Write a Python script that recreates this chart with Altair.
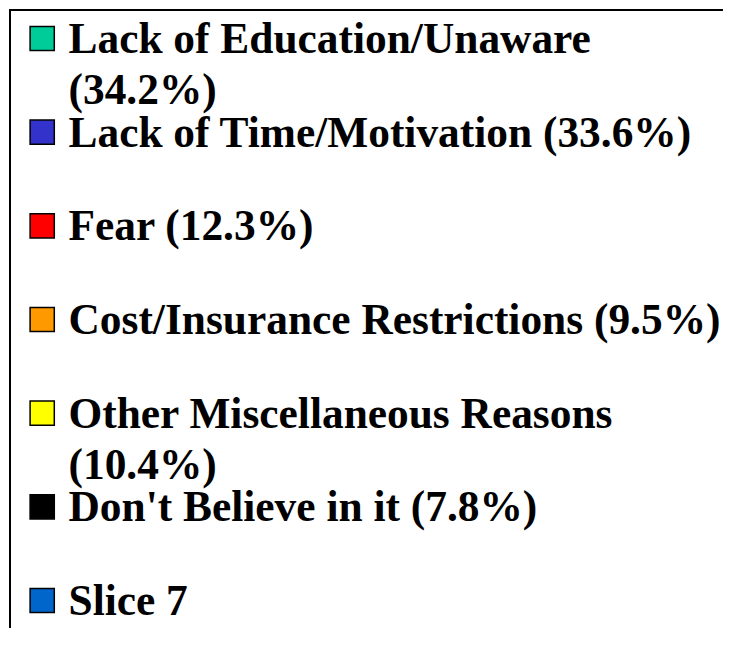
import altair as alt
import pandas as pd

labels = [
    "Lack of Education/Unaware\n(34.2%)",
    "Lack of Time/Motivation (33.6%)",
    "Fear (12.3%)",
    "Cost/Insurance Restrictions (9.5%)",
    "Other Miscellaneous Reasons\n(10.4%)",
    "Don't Believe in it (7.8%)",
    "Slice 7",
]
colors = ["#00CC99", "#3333CC", "#FF0000", "#FF9900", "#FFFF00", "#000000", "#0066CC"]
order = list(range(len(labels)))

W, H = 715, 620

df = pd.DataFrame({"label": labels, "order": order})

yenc = alt.Y("order:O", axis=None, scale=alt.Scale(type="point", domain=order, range=[29.5, 591.5], padding=0))
cenc = alt.Color("order:O", legend=None, scale=alt.Scale(domain=order, range=colors))

base = alt.Chart(df)

squares = base.mark_square(size=585, stroke="#000000", strokeWidth=1.5, opacity=1, filled=True).encode(
    x=alt.value(33.2), y=yenc, color=cenc
)

texts = base.mark_text(
    align="left", baseline="alphabetic", dy=14.5, lineBreak="\n", lineHeight=51,
    font="Liberation Serif", fontWeight="bold", fontSize=43.4, color="#000000"
).encode(x=alt.value(59.5), y=yenc, text="label:N")

frame_df = pd.DataFrame({"k": [0]})
left_border = alt.Chart(frame_df).mark_rule(color="#000000", strokeWidth=2).encode(
    x=alt.value(1), y=alt.value(0), y2=alt.value(H)
)
top_border = alt.Chart(frame_df).mark_rule(color="#000000", strokeWidth=2).encode(
    x=alt.value(0), x2=alt.value(W), y=alt.value(1)
)

chart = alt.layer(left_border, top_border, squares, texts).properties(
    width=W, height=H, padding=0, background="#FFFFFF",
    autosize=alt.AutoSizeParams(type="fit", contains="padding"),
).configure_view(stroke=None)

chart.save("out.html", embed_options={"renderer": "svg", "actions": False})
